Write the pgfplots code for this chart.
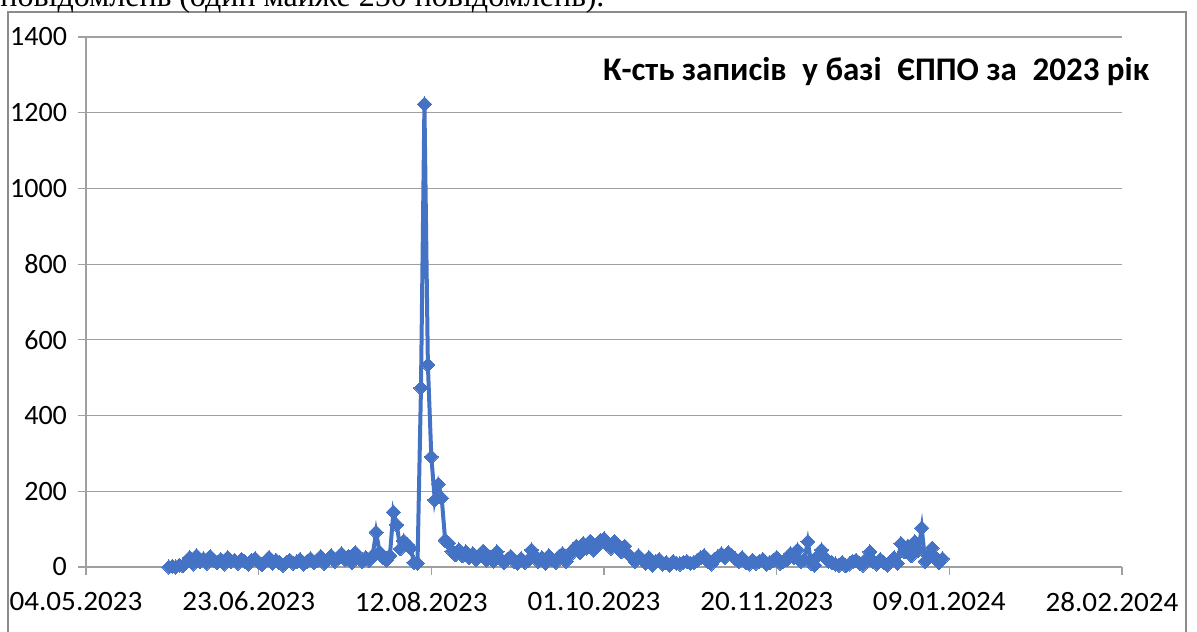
\documentclass[border=0pt]{standalone}
\usepackage{pgfplots}
\pgfplotsset{compat=1.18}
\usepackage{fontspec}
\setmainfont{Carlito}
\newfontfamily\timesfont{Liberation Serif}
\definecolor{ser}{HTML}{4472C4}
\definecolor{grd}{HTML}{A0A0A0}
\definecolor{frm}{HTML}{8C8C8C}
\begin{document}
\begin{tikzpicture}[x=1pt,y=1pt]
\useasboundingbox (0,0) rectangle (598.5,315.5);
\draw[frm, line width=0.6pt] (4,309.5) rectangle (593,-10);
\node[anchor=base west, inner sep=0pt, font=\timesfont\fontsize{16}{18}\selectfont] at (0,312) {повідомлень (один майже 250 повідомлень).};
\begin{axis}[
  at={(43pt,32pt)}, anchor=south west,
  scale only axis, width=518pt, height=265pt,
  xmin=0, xmax=300, ymin=0, ymax=1400,
  xtick={0,50,100,150,200,250,300},
  xticklabels={04.05.2023,23.06.2023,12.08.2023,01.10.2023,20.11.2023,09.01.2024,28.02.2024},
  ytick={0,200,400,600,800,1000,1200,1400},
  /pgf/number format/assume math mode=true,
  /pgf/number format/1000 sep={},
  tick label style={font=\fontsize{14}{16}\selectfont, text=black},
  ymajorgrids, grid style={grd, line width=0.6pt},
  axis x line*=bottom, axis y line*=left,
  axis line style={grd, line width=0.6pt},
  tick style={grd, line width=0.6pt},
  tick align=outside, major tick length=4pt,
  xticklabel style={yshift=-5pt, xshift=-5pt, xscale=1.04},
  yticklabel style={xshift=-2pt},
  clip=false,
]
\addplot[color=ser, line width=2pt, mark=square*, mark size=2.5pt, mark options={rotate=45, solid, fill=ser, draw=ser, line width=0pt}] table {
x y
24 0
25 2
26 0
27 5
28 3
29 12
30 25
31 8
32 30
33 15
34 22
35 10
36 28
37 18
38 12
39 20
40 8
41 25
42 15
43 18
44 10
45 20
46 14
47 8
48 18
49 22
50 12
51 6
52 15
53 25
54 10
55 18
56 12
57 5
58 12
59 18
60 10
61 14
62 20
63 8
64 15
65 22
66 12
67 18
68 28
69 10
70 20
71 30
72 15
73 25
74 35
75 20
76 28
77 12
78 38
79 22
80 15
81 25
82 18
83 30
84 92
85 40
86 25
87 18
88 30
89 145
90 111
91 48
92 69
93 60
94 50
95 12
96 10
97 473
98 1223
99 534
100 291
101 177
102 219
103 182
104 71
105 63
106 42
107 32
108 45
109 30
110 40
111 25
112 35
113 20
114 30
115 42
116 18
117 25
118 15
119 40
120 22
121 12
122 20
123 28
124 15
125 10
126 22
127 12
128 18
129 45
130 30
131 15
132 25
133 10
134 30
135 20
136 12
137 28
138 35
139 15
140 30
141 45
142 55
143 38
144 62
145 50
146 68
147 45
148 55
149 70
150 75
151 62
152 50
153 68
154 55
155 40
156 55
157 35
158 25
159 15
160 30
161 20
162 10
163 25
164 5
165 15
166 20
167 8
168 12
169 5
170 15
171 10
172 8
173 12
174 15
175 10
176 12
177 18
178 25
179 30
180 15
181 8
182 20
183 28
184 35
185 25
186 38
187 30
188 22
189 15
190 25
191 12
192 8
193 18
194 10
195 15
196 20
197 8
198 12
199 18
200 25
201 10
202 15
203 20
204 35
205 25
206 45
207 15
208 20
209 67
210 10
211 5
212 30
213 45
214 25
215 15
216 12
217 8
218 5
219 12
220 3
221 8
222 15
223 18
224 10
225 5
226 22
227 40
228 15
229 8
230 20
231 12
232 5
233 15
234 25
235 10
236 62
237 40
238 55
239 30
240 67
241 45
242 103
243 15
244 30
245 50
246 25
247 12
248 22
};
\end{axis}
\node[font=\bfseries\fontsize{16.5}{18}\selectfont, text=black] at (438,279.5) {К-сть записів\hspace{0.25em} у базі\hspace{0.25em} ЄППО за\hspace{0.25em} 2023 рік};
\end{tikzpicture}
\end{document}
